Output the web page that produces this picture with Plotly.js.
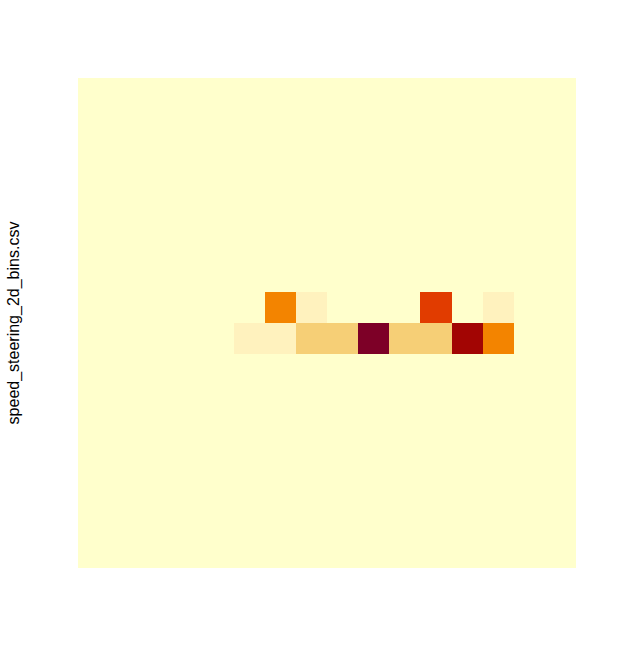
<!DOCTYPE html>
<html>
<head>
<meta charset="utf-8">
<script src="https://cdn.plot.ly/plotly-3.0.1.min.js"></script>
<style>html,body{margin:0;padding:0;background:#fff;}#chart{width:617px;height:666px;}</style>
</head>
<body>
<div id="chart"></div>
<script>
// Bin indices (columns = x bins, rows = y bins, row 0 at the bottom)
const xBins = [0,1,2,3,4,5,6,7,8,9,10,11,12,13,14,15];
const yBins = [0,1,2,3,4,5,6,7,8,9,10,11,12,13,14,15];

// Counts per cell (row by row, bottom to top)
const counts = [
  [0,0,0,0,0,0,0,0,0,0,0,0,0,0,0,0],
  [0,0,0,0,0,0,0,0,0,0,0,0,0,0,0,0],
  [0,0,0,0,0,0,0,0,0,0,0,0,0,0,0,0],
  [0,0,0,0,0,0,0,0,0,0,0,0,0,0,0,0],
  [0,0,0,0,0,0,0,0,0,0,0,0,0,0,0,0],
  [0,0,0,0,0,0,0,0,0,0,0,0,0,0,0,0],
  [0,0,0,0,0,0,0,0,0,0,0,0,0,0,0,0],
  [0,0,0,0,0,1,1,3,3,12,3,3,11,7,0,0],
  [0,0,0,0,0,0,7,1,0,0,0,9,0,1,0,0],
  [0,0,0,0,0,0,0,0,0,0,0,0,0,0,0,0],
  [0,0,0,0,0,0,0,0,0,0,0,0,0,0,0,0],
  [0,0,0,0,0,0,0,0,0,0,0,0,0,0,0,0],
  [0,0,0,0,0,0,0,0,0,0,0,0,0,0,0,0],
  [0,0,0,0,0,0,0,0,0,0,0,0,0,0,0,0],
  [0,0,0,0,0,0,0,0,0,0,0,0,0,0,0,0],
  [0,0,0,0,0,0,0,0,0,0,0,0,0,0,0,0]
];

// Discrete colour levels (value -> colour)
const levelValues = [0, 1, 3, 7, 9, 11, 12];
const levelColors = ['#FFFFCC', '#FFF2BE', '#F6CF76', '#F38400', '#E13C00', '#A20503', '#7D0027'];

const zMax = 12;
const colorscale = [];
for (let i = 0; i < levelValues.length; i++) {
  const lo = i === 0 ? 0 : (levelValues[i - 1] + levelValues[i]) / 2 / zMax;
  const hi = i === levelValues.length - 1 ? 1 : (levelValues[i] + levelValues[i + 1]) / 2 / zMax;
  colorscale.push([lo, levelColors[i]]);
  colorscale.push([hi, levelColors[i]]);
}

const trace = {
  type: 'heatmap',
  x: xBins,
  y: yBins,
  z: counts,
  zmin: 0,
  zmax: zMax,
  colorscale: colorscale,
  showscale: false,
  hoverongaps: false
};

const axisCommon = {
  showgrid: false, zeroline: false, showline: false,
  showticklabels: false, ticks: '', fixedrange: true
};

const layout = {
  width: 617, height: 666,
  margin: {l: 78, r: 41, t: 78, b: 98, pad: 0},
  paper_bgcolor: '#ffffff', plot_bgcolor: '#ffffff',
  font: {family: 'Liberation Sans, Arial, sans-serif', color: '#000000'},
  xaxis: Object.assign({}, axisCommon, {range: [-0.5, 15.5]}),
  yaxis: Object.assign({}, axisCommon, {
    range: [-0.5, 15.5],
    title: {text: 'speed_steering_2d_bins.csv', font: {size: 16, color: '#000000'}, standoff: 53}
  })
};

Plotly.newPlot('chart', [trace], layout, {displayModeBar: false, staticPlot: true});
</script>
</body>
</html>
